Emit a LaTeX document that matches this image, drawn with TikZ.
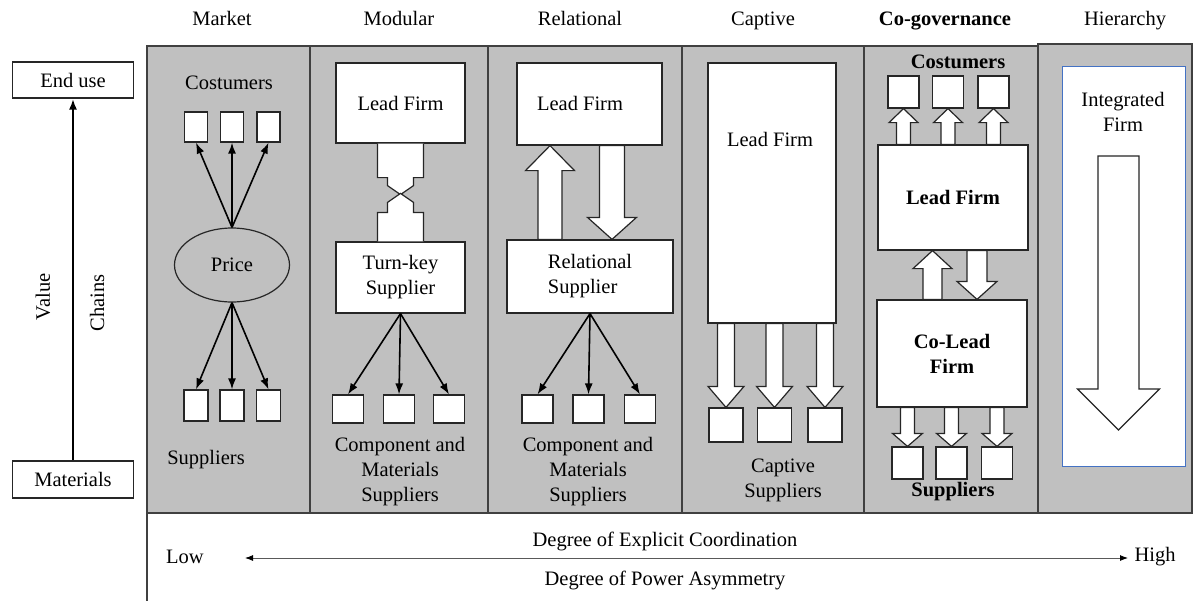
\documentclass[tikz,border=0pt]{standalone}
\usepackage{fontspec}
\setmainfont{Liberation Serif}
\usetikzlibrary{calc,shapes.geometric,arrows.meta}
\definecolor{panelgray}{RGB}{192,192,192}
\definecolor{linegray}{RGB}{64,64,64}
\definecolor{boxblue}{RGB}{68,114,196}
% block arrow: start, tip, half shaft, half head, head length
\newcommand{\fatarrow}[5]{%
  \coordinate (fab) at ($(#2)!#5pt!(#1)$);
  \draw[draw=black!85,fill=white,line width=1.2pt]
    ($(#1)!#3pt!90:(#2)$) -- ($(fab)!#3pt!90:(#2)$) -- ($(fab)!#4pt!90:(#2)$) -- (#2)
    -- ($(fab)!#4pt!-90:(#2)$) -- ($(fab)!#3pt!-90:(#2)$) -- ($(#1)!#3pt!-90:(#2)$) -- cycle;}

\begin{document}
\begin{tikzpicture}[x=1pt,y=-1pt,
  every node/.style={font=\fontsize{20.5}{25}\selectfont},
  title/.style={anchor=base},
  panel/.style={fill=panelgray,draw=linegray,line width=1.6pt},
  firm/.style={draw=black!85,fill=white,line width=1.2pt,align=center,inner sep=0pt},
  unitbox/.style={draw=black!85,fill=white,line width=1.2pt,inner sep=0pt},
  link/.style={-{Latex[length=11pt,width=8pt]},line width=1.6pt},
  lbl/.style={align=center}]
\useasboundingbox (0,0) rectangle (1193,600);

%% column titles
\node[title] (tmar) at (222,25) {Market};
\node[title] (tmod) at (399,25) {Modular};
\node[title] (trel) at (580,25) {Relational};
\node[title] (tcap) at (763,25) {Captive};
\node[title] (tcog) at (945,25) {\textbf{Co-governance}};
\node[title] (thie) at (1125,25) {Hierarchy};

%% panels
\filldraw[panel] (147,46) rectangle (1038,513);
\foreach \x in {310,488,682,864} \draw[linegray,line width=1.6pt] (\x,46) -- (\x,513);
\filldraw[panel] (1038,44) rectangle (1192,513);
\draw[linegray,line width=1.2pt,fill=white] (147,513) rectangle (1198,606);

%% value chain axis
\node[firm,minimum width=121pt,minimum height=36pt] (endu) at (73,80) {End use};
\node[firm,minimum width=121pt,minimum height=37pt] (mat) at (73,479.5) {Materials};
\draw[-{Latex[length=11pt,width=8pt]},line width=2.2pt] (mat.north) -- (endu.south);
\node[rotate=90] (val) at (43,297) {Value};
\node[rotate=90] (cha) at (97,303) {Chains};

%% market
\node (mcos) at (229,83) {Costumers};
\node[ellipse,draw=black!85,fill=panelgray,line width=1.2pt,minimum width=115pt,minimum height=74pt,inner sep=0pt] (price) at (232,265) {Price};
\foreach \i/\x in {1/196,2/232,3/268.5}{
  \node[unitbox,minimum width=23pt,minimum height=30pt] (mc\i) at (\x,127) {};
  \node[unitbox,minimum width=24pt,minimum height=31pt] (ms\i) at (\x,405.5) {};
  \draw[link] (price.north) -- (mc\i.south);
  \draw[link] (price.south) -- (ms\i.north);
}
\node (msup) at (206,460) {Suppliers};

%% modular
\node[firm,minimum width=129pt,minimum height=80pt] (mlf) at (400.5,103) {Lead Firm};
\node[firm,minimum width=129pt,minimum height=71pt] (tk) at (400.5,277.5) {Turn-key\\Supplier};
\filldraw[draw=black!85,fill=white,line width=1.2pt] (mlf.south) ++(-23,0) -- ++(0,34) -- ++(10,0) -- ++(0,8)
  -- ++(13,9) -- ++(13,-9) -- ++(0,-8) -- ++(10,0) -- ++(0,-34);
\filldraw[draw=black!85,fill=white,line width=1.2pt] (tk.north) ++(-23,0) -- ++(0,-29) -- ++(10,0) -- ++(0,-10)
  -- ++(13,-9) -- ++(13,9) -- ++(0,10) -- ++(10,0) -- ++(0,29);
\foreach \i/\x in {1/348,2/399,3/449}{
  \node[unitbox,minimum width=31pt,minimum height=28pt] (mm\i) at (\x,409) {};
  \draw[link] (tk.south) -- (mm\i.north);
}
\node[lbl] (mcms) at (400,472) {Component and\\Materials\\Suppliers};

%% relational
\node[firm,minimum width=145pt,minimum height=82pt] (rlf) at (589.5,104) {};
\node (rlft) at (580,103) {Lead Firm};
\node[firm,minimum width=166pt,minimum height=73pt,align=left] (rs) at (590,276.5) {Relational\\Supplier};
\fatarrow{550,0 |- rs.north}{550,0 |- rlf.south}{12}{24.5}{25}
\fatarrow{612,0 |- rlf.south}{612,0 |- rs.north}{12.5}{24.5}{22}
\foreach \i/\x in {1/537.5,2/588.5,3/640}{
  \node[unitbox,minimum width=31pt,minimum height=28pt] (rm\i) at (\x,409) {};
  \draw[link] (rs.south) -- (rm\i.north);
}
\node[lbl] (rcms) at (588,472) {Component and\\Materials\\Suppliers};

%% captive
\node[firm,minimum width=128pt,minimum height=260pt] (clf) at (772,193) {};
\node (clft) at (770,139) {Lead Firm};
\foreach \i/\x in {1/726,2/774.5,3/825}{
  \node[unitbox,minimum width=34pt,minimum height=34pt] (cs\i) at (\x,425) {};
  \fatarrow{cs\i.north |- clf.south}{cs\i.north}{8.5}{18}{21}
}
\node[lbl] (csup) at (783,480) {Captive\\Suppliers};

%% co-governance
\node (gcos) at (958,62) {\textbf{Costumers}};
\node[firm,minimum width=150pt,minimum height=105pt] (glf) at (953,197.5) {\textbf{Lead Firm}};
\node[firm,minimum width=150pt,minimum height=107pt] (gcl) at (952,353.5) {\textbf{Co-Lead}\\\textbf{Firm}};
\foreach \i/\x in {1/903.5,2/948,3/993.5}{
  \node[unitbox,minimum width=31pt,minimum height=32pt] (gc\i) at (\x,92) {};
  \fatarrow{gc\i.south |- glf.north}{gc\i.south}{7}{14.5}{14}
}
\fatarrow{932.5,0 |- gcl.north}{932.5,0 |- glf.south}{9.5}{19.5}{18}
\fatarrow{977,0 |- glf.south}{977,0 |- gcl.north}{10}{20}{18}
\foreach \i/\x in {1/907.5,2/951.5,3/997}{
  \node[unitbox,minimum width=31pt,minimum height=32pt] (gs\i) at (\x,463) {};
  \fatarrow{gs\i.north |- gcl.south}{gs\i.north}{7}{15}{13}
}
\node (gsup) at (953,492) {\textbf{Suppliers}};

%% hierarchy
\node[draw=boxblue,fill=white,line width=1pt,minimum width=123pt,minimum height=400pt] (hif) at (1123.5,266) {};
\node[lbl] (hift) at (1123,112) {Integrated\\Firm};
\coordinate (hat) at (1118.5,156);
\coordinate (hab) at (1118.5,430);
\fatarrow{hat}{hab}{20.5}{41}{41}

%% coordination axis
\node (dec) at (665,541) {Degree of Explicit Coordination};
\node (dpa) at (665,580) {Degree of Power Asymmetry};
\node (low) at (185,557) {Low};
\node (high) at (1155,557) {High};
\coordinate (axl) at (245,558);
\coordinate (axr) at (1128,558);
\draw[{Latex[length=8pt,width=6pt,black]}-{Latex[length=8pt,width=6pt,black]},gray!70!black,line width=0.9pt] (axl) -- (axr);
\end{tikzpicture}
\end{document}
